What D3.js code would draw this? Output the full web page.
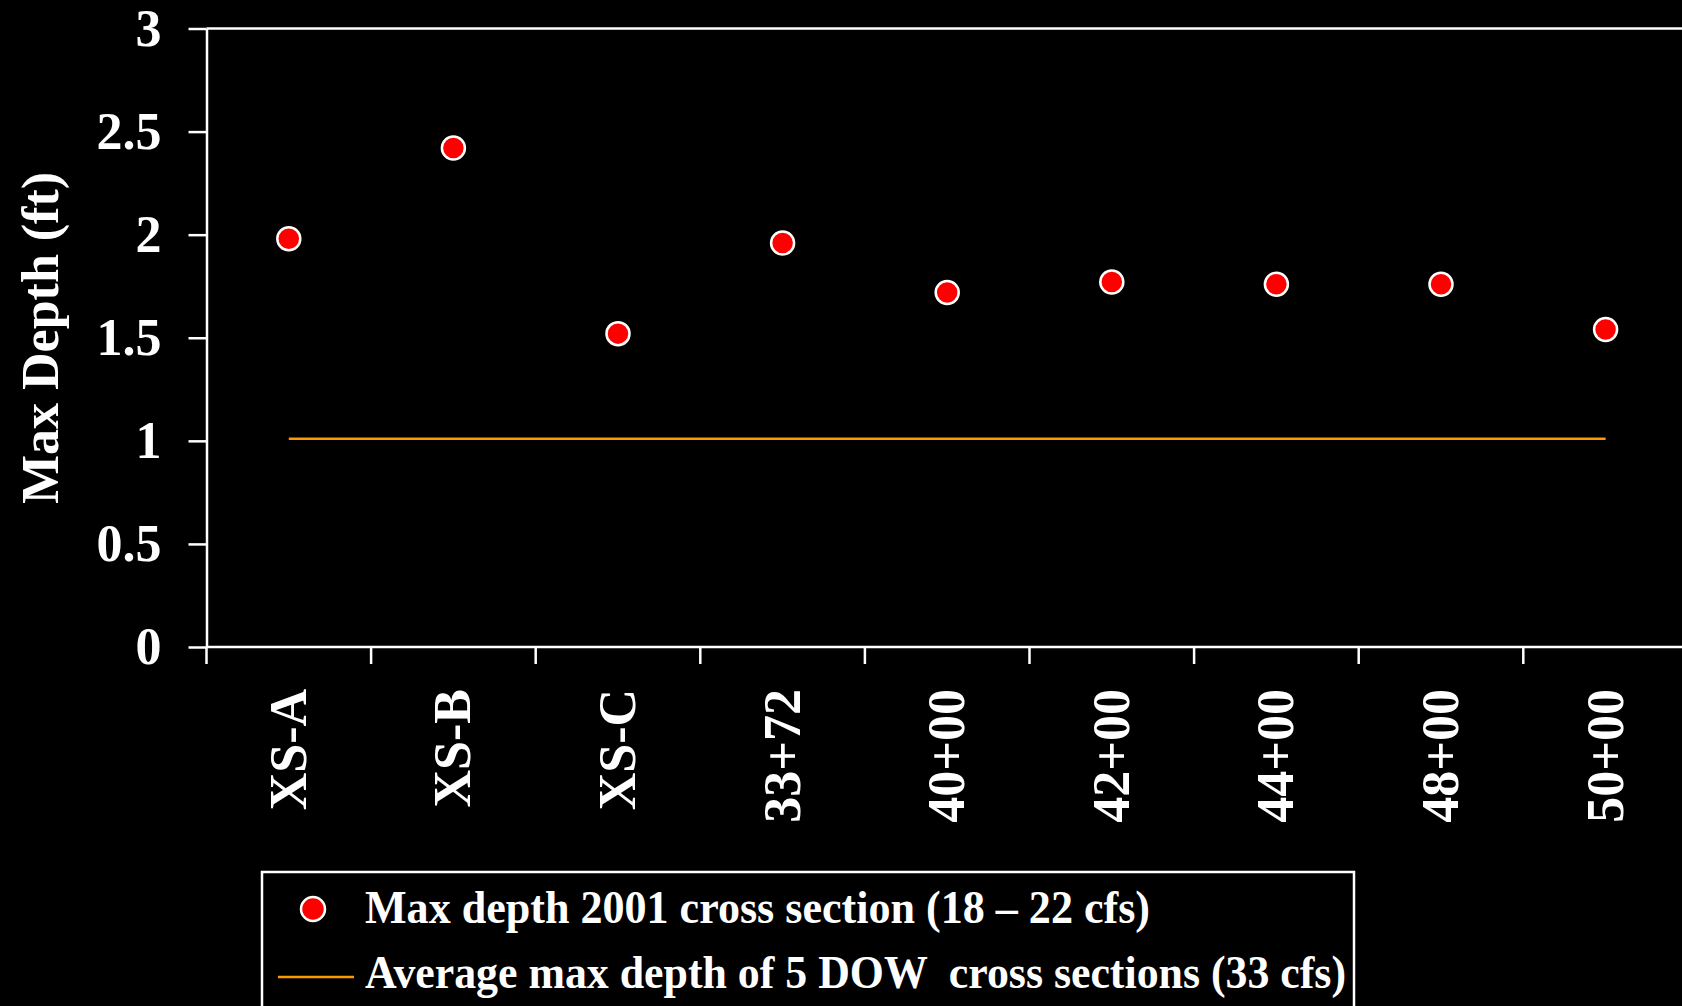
<!DOCTYPE html>
<html>
<head>
<meta charset="utf-8">
<script src="https://cdn.jsdelivr.net/npm/d3@7"></script>
<style>
  html, body { margin: 0; padding: 0; background: #000; overflow: hidden; }
  svg { display: block; }
  text { font-family: "Liberation Serif", "Times New Roman", serif; font-weight: bold; fill: #fff; }
</style>
</head>
<body>
<script>
const categories = ["XS-A", "XS-B", "XS-C", "33+72", "40+00", "42+00", "44+00", "48+00", "50+00"];
const maxDepth2001 = [1.98, 2.42, 1.52, 1.96, 1.72, 1.77, 1.76, 1.76, 1.54];
const avgDowDepth = [1.01, 1.01, 1.01, 1.01, 1.01, 1.01, 1.01, 1.01, 1.01];
const yTicks = [0, 0.5, 1, 1.5, 2, 2.5, 3];
const yTickLabels = ["0", "0.5", "1", "1.5", "2", "2.5", "3"];
const yTitle = "Max Depth (ft)";
const legendLabels = ["Max depth 2001 cross section (18 \u2013 22 cfs)", "Average max depth of 5 DOW  cross sections (33 cfs)"];

const W = 1682, H = 1006;
const svg = d3.select("body").append("svg").attr("width", W).attr("height", H);
svg.append("rect").attr("width", W).attr("height", H).attr("fill", "#000");

const x0 = 206.5, step = 164.6;
const x = d3.scaleBand().domain(categories).range([x0, x0 + step * categories.length]).padding(0);
const y = d3.scaleLinear().domain([0, 3]).range([647, 28.5]);
const cx = c => x(c) + x.bandwidth() / 2;

// Top border
svg.append("line").attr("x1", x0).attr("x2", W).attr("y1", y(3)).attr("y2", y(3))
  .attr("stroke", "#fff").attr("stroke-width", 2.5);

// Y axis
const yAxis = svg.append("g").attr("transform", `translate(${x0},0)`)
  .call(d3.axisLeft(y).tickValues(yTicks).tickSize(18).tickSizeOuter(0).tickPadding(27)
    .tickFormat((d, i) => yTickLabels[i]));
yAxis.select(".domain").attr("stroke", "#fff").attr("stroke-width", 2.5);
yAxis.selectAll(".tick line").attr("stroke", "#fff").attr("stroke-width", 2.5);
yAxis.selectAll(".tick text").style("font-size", "52px").style("font-family", "'Liberation Serif', serif")
  .style("font-weight", "bold").attr("fill", "#fff");

// X axis (labels at band centers)
const xAxis = svg.append("g").attr("transform", `translate(0,${y(0)})`)
  .call(d3.axisBottom(x).tickSize(0).tickSizeOuter(0));
xAxis.select(".domain").remove();
xAxis.selectAll(".tick line").remove();
xAxis.selectAll(".tick text")
  .attr("transform", "rotate(-90)")
  .attr("x", -42).attr("y", 17).attr("dy", 0)
  .attr("text-anchor", "end")
  .style("font-size", "52px").style("font-family", "'Liberation Serif', serif")
  .style("font-weight", "bold").attr("fill", "#fff");

// X axis line and band-boundary ticks
svg.append("line").attr("x1", x0).attr("x2", W).attr("y1", y(0)).attr("y2", y(0))
  .attr("stroke", "#fff").attr("stroke-width", 2.5);
svg.append("g").selectAll("line").data(categories).join("line")
  .attr("x1", d => x(d)).attr("x2", d => x(d))
  .attr("y1", y(0)).attr("y2", y(0) + 17)
  .attr("stroke", "#fff").attr("stroke-width", 2.5);

// Y title
svg.append("text")
  .attr("transform", `translate(58,338) rotate(-90)`)
  .attr("text-anchor", "middle")
  .style("font-size", "52px")
  .text(yTitle);

// Average line
const line = d3.line().x((d, i) => cx(categories[i])).y(d => y(d));
svg.append("path").datum(avgDowDepth).attr("d", line)
  .attr("fill", "none").attr("stroke", "#FF9900").attr("stroke-width", 2.5);

// Points
svg.append("g").selectAll("circle").data(maxDepth2001).join("circle")
  .attr("cx", (d, i) => cx(categories[i])).attr("cy", d => y(d))
  .attr("r", 11.5).attr("fill", "#FF0000").attr("stroke", "#fff").attr("stroke-width", 2.5);

// Legend
const lg = svg.append("g");
lg.append("rect").attr("x", 262).attr("y", 872).attr("width", 1092).attr("height", 200)
  .attr("fill", "#000").attr("stroke", "#fff").attr("stroke-width", 2.5);
lg.append("circle").attr("cx", 313).attr("cy", 909).attr("r", 12)
  .attr("fill", "#FF0000").attr("stroke", "#fff").attr("stroke-width", 2.5);
lg.append("text").attr("x", 365).attr("y", 923).style("font-size", "46px")
  .attr("textLength", 785).attr("lengthAdjust", "spacingAndGlyphs")
  .style("white-space", "pre").text(legendLabels[0]);
lg.append("line").attr("x1", 278).attr("x2", 354).attr("y1", 977).attr("y2", 977)
  .attr("stroke", "#FF9900").attr("stroke-width", 2.5);
lg.append("text").attr("x", 365).attr("y", 988).style("font-size", "46px")
  .attr("textLength", 981).attr("lengthAdjust", "spacingAndGlyphs")
  .style("white-space", "pre").text(legendLabels[1]);
</script>
</body>
</html>
